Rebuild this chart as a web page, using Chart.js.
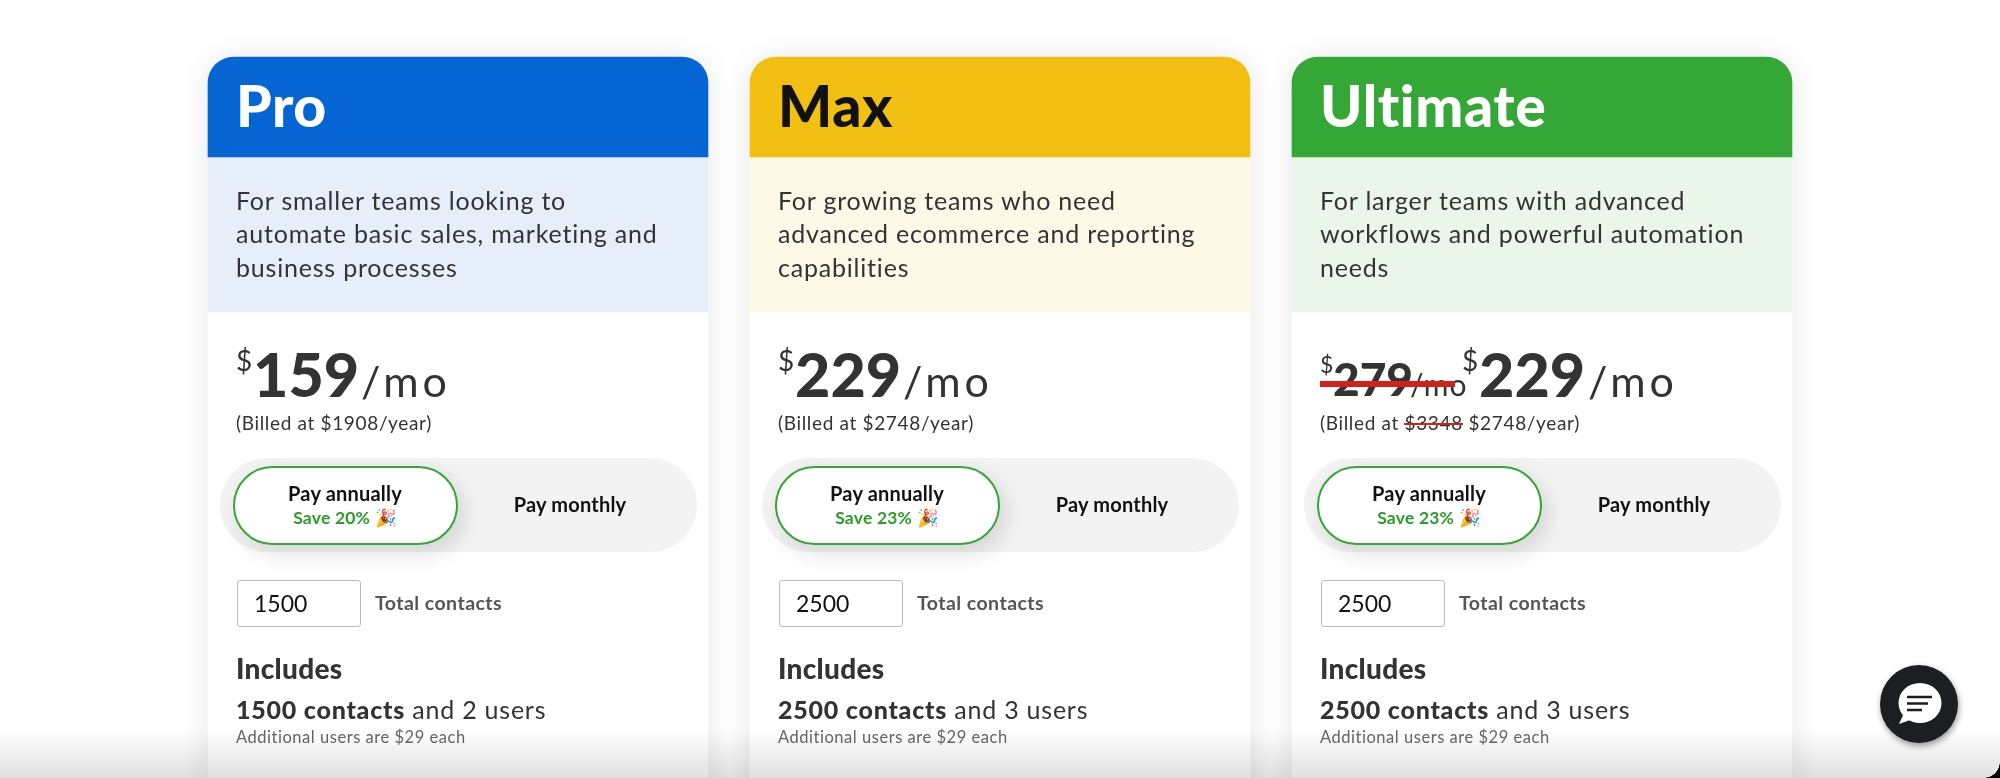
<!DOCTYPE html>
<html>
<head>
<meta charset="utf-8">
<script src="https://cdn.jsdelivr.net/npm/chart.js@4"></script>
<style>
  html, body { margin: 0; width: 2000px; height: 778px; overflow: hidden; background: #fff; font-family: Lato, sans-serif; color: #333; }
  #stage { position: absolute; left: 0; top: 0; width: 2000px; height: 778px; }
  .card { position: absolute; top: 0; width: 500px; height: 778px; }
  .card > * { position: absolute; white-space: nowrap; }
  .name { left: 28px; top: 74px; font-size: 57px; font-weight: 900; line-height: 62px; letter-spacing: .6px; }
  .desc { left: 28px; font-size: 25px; line-height: 33px; color: #333; letter-spacing: .8px; }
  .big { font-size: 61px; font-weight: 900; line-height: 70px; }
  .cur { font-size: 28px; line-height: 30px; }
  .per { font-size: 43px; line-height: 50px; letter-spacing: 4px; }
  .billed { left: 28px; top: 411px; font-size: 19px; line-height: 24px; letter-spacing: .66px; }
  .pill { left: 12px; top: 458px; width: 477px; height: 94px; border-radius: 47px; background: #f3f3f3; }
  .pick { left: 25px; top: 466px; width: 221px; height: 75px; border: 2px solid #35a736; border-radius: 40px; background: #fff; box-shadow: 6px 8px 22px rgba(0,0,0,.13); }
  .pay { font-size: 20px; font-weight: 700; color: #111; text-align: center; line-height: 24px; letter-spacing: .2px; }
  .save { font-size: 17.5px; font-weight: 700; color: #2a9d2a; line-height: 20px; letter-spacing: .2px; }
  .box { left: 29px; top: 580px; width: 122px; height: 45px; border: 1.5px solid #bbb; border-radius: 3px; background: #fff; }
  .count { left: 46px; top: 589px; font-size: 23px; line-height: 28px; color: #111; }
  .total { left: 167px; top: 591px; font-size: 19.5px; font-weight: 700; line-height: 24px; color: #555; letter-spacing: .45px; }
  .inc { left: 28px; top: 651px; font-size: 28px; font-weight: 900; line-height: 34px; letter-spacing: .3px; }
  .users { left: 28px; top: 694px; font-size: 25px; line-height: 30px; letter-spacing: .77px; }
  .users b { font-weight: 900; }
  .extra { left: 28px; top: 726px; font-size: 16.5px; line-height: 22px; color: #666; letter-spacing: .53px; }
  .more { left: 28px; top: 771px; font-size: 27px; font-weight: 900; line-height: 34px; color: #2a8f2a; letter-spacing: .3px; }
  .strike { background: #d3211a; }
  #fade { position: absolute; left: 0; top: 730px; width: 2000px; height: 48px; background: linear-gradient(rgba(0,0,0,0), rgba(0,0,0,.12)); }
  #chat { position: absolute; left: 1880px; top: 665px; width: 78px; height: 78px; border-radius: 50%; background: #1c1e21; box-shadow: 1px 3px 6px rgba(0,0,0,.4); }
  #corner { position: absolute; left: 1984px; top: 762px; width: 16px; height: 16px; background: radial-gradient(circle at 0 0, transparent 15.5px, #000 16px); }
</style>
</head>
<body>
<div id="stage"><canvas id="plans" width="2000" height="778"></canvas></div>
<div id="cards"></div>
<div id="fade"></div>
<div id="chat"><svg width="78" height="78" viewBox="0 0 78 78"><ellipse cx="40" cy="38" rx="21.5" ry="20" fill="#fff"/><path d="M24 48l-5 11 14-5z" fill="#fff"/><path d="M27 32h25M27 38.5h21M27 45h15" stroke="#1c1e21" stroke-width="2.5" fill="none"/></svg></div>
<div id="corner"></div>
<script>
// plan tiers, left to right
const planNames = ['Pro', 'Max', 'Ultimate'];
const headerColors = ['#0565d3', '#f1c013', '#35a736'];
const tintColors = ['#e6eefa', '#fef8e7', '#ebf6eb'];

// vertical extents of each card section
const cardSpan = [[57, 830], [57, 830], [57, 830]];
const headerSpan = [[57, 157], [57, 157], [57, 157]];
const descSpan = [[157, 312], [157, 312], [157, 312]];

const descriptions = [
  ['For smaller teams looking to', 'automate basic sales, marketing and', 'business processes'],
  ['For growing teams who need', 'advanced ecommerce and reporting', 'capabilities'],
  ['For larger teams with advanced', 'workflows and powerful automation', 'needs']
];
const prices = [159, 229, 229];
const oldPrices = [null, null, 279];
const billedYear = [1908, 2748, 2748];
const oldBilled = [null, null, 3348];
const savePct = [20, 23, 23];
const contacts = [1500, 2500, 2500];
const users = [2, 3, 3];
const extraUserCost = 29;
const moreHeadings = ['Core features', 'Everything in Pro, plus', 'Core features and'];

// card drop shadow only on the white card dataset
const cardShadow = {
  id: 'cardShadow',
  beforeDatasetDraw(chart, args) {
    if (args.index !== 2) return;
    chart.ctx.save();
    chart.ctx.shadowColor = 'rgba(0,0,0,0.10)';
    chart.ctx.shadowBlur = 30;
    chart.ctx.shadowOffsetY = 2;
  },
  afterDatasetDraw(chart, args) {
    if (args.index === 2) chart.ctx.restore();
  }
};

const topRound = { topLeft: 26, topRight: 26, bottomLeft: 0, bottomRight: 0 };

const chart = new Chart(document.getElementById('plans'), {
  type: 'bar',
  data: {
    labels: planNames,
    datasets: [
      { label: 'Header', data: headerSpan, backgroundColor: headerColors, borderRadius: topRound, borderSkipped: false },
      { label: 'Description', data: descSpan, backgroundColor: tintColors, borderRadius: 0 },
      { label: 'Card', data: cardSpan, backgroundColor: '#fff', borderRadius: topRound, borderSkipped: false }
    ]
  },
  options: {
    responsive: false,
    animation: false,
    layout: { padding: { left: 187, right: 187, top: 0, bottom: 0 } },
    datasets: { bar: { barThickness: 500 } },
    scales: {
      x: { stacked: true, display: false },
      y: { display: false, reverse: true, min: 0, max: 778 }
    },
    plugins: { legend: { display: false }, tooltip: { enabled: false } }
  },
  plugins: [cardShadow]
});

// text sits over each bar, lined up from the category scale
function priceBlock(i) {
  if (oldPrices[i] === null) {
    return `<span class="cur" style="left:28px;top:345px">$</span>
      <span class="big" style="left:45px;top:339px">${prices[i]}</span>
      <span class="per" style="left:153px;top:356px">/mo</span>
      <span class="billed">(Billed at $${billedYear[i]}/year)</span>`;
  }
  return `<span class="cur" style="left:28px;top:349px;font-size:23px">$</span>
    <span class="big" style="left:41px;top:354px;font-size:46px;line-height:50px">${oldPrices[i]}</span>
    <span class="per" style="left:118px;top:366px;font-size:30px;line-height:36px;letter-spacing:1px">/mo</span>
    <span class="strike" style="left:28px;top:381px;width:135px;height:6px"></span>
    <span class="cur" style="left:170px;top:345px">$</span>
    <span class="big" style="left:187px;top:339px">${prices[i]}</span>
    <span class="per" style="left:296px;top:356px">/mo</span>
    <span class="billed">(Billed at <span style="position:relative">$${oldBilled[i]}<span class="strike" style="position:absolute;left:0;right:0;top:12px;height:1.5px"></span></span> $${billedYear[i]}/year)</span>`;
}

const host = document.getElementById('cards');
planNames.forEach((name, i) => {
  const card = document.createElement('div');
  card.className = 'card';
  card.style.left = (chart.scales.x.getPixelForValue(i) - 250) + 'px';
  const descLines = descriptions[i].map((line, n) =>
    `<span class="desc" style="top:${184 + n * 33.3}px">${line}</span>`).join('');
  card.innerHTML = `
    <span class="name" style="color:${i === 1 ? '#111' : '#fff'}">${name}</span>
    ${descLines}
    ${priceBlock(i)}
    <span class="pill"></span>
    <span class="pick"></span>
    <span class="pay" style="left:24px;width:226px;top:481px">Pay annually</span>
    <span class="save" style="left:24px;width:226px;top:508px;text-align:center">Save ${savePct[i]}% 🎉</span>
    <span class="pay" style="left:249px;width:226px;top:492px">Pay monthly</span>
    <span class="box"></span>
    <span class="count">${contacts[i]}</span>
    <span class="total">Total contacts</span>
    <span class="inc">Includes</span>
    <span class="users"><b>${contacts[i]} contacts</b> and ${users[i]} users</span>
    <span class="extra">Additional users are $${extraUserCost} each</span>
    <span class="more">${moreHeadings[i]}</span>`;
  host.appendChild(card);
});
</script>
</body>
</html>
